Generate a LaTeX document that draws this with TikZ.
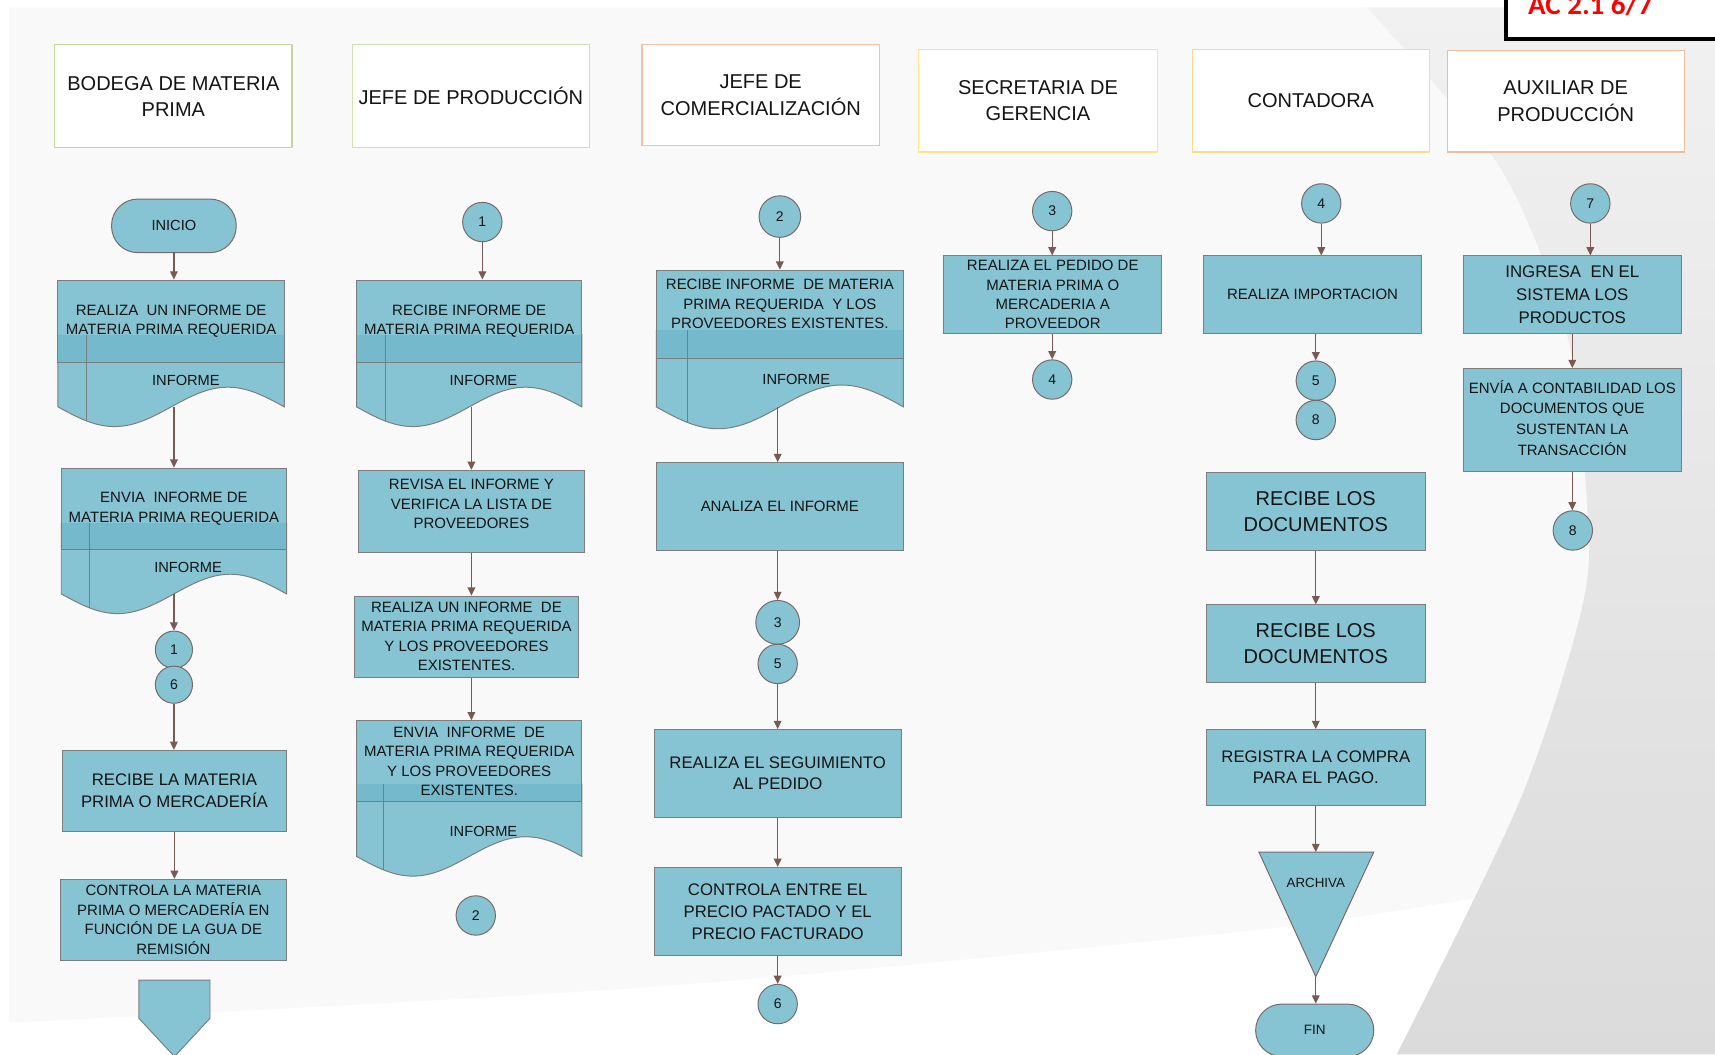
\documentclass[tikz,border=0pt]{standalone}
\usepackage{fontspec}
\setmainfont{Liberation Sans}
\newfontfamily\tagfont{Carlito}
\usetikzlibrary{arrows.meta,calc}

\definecolor{flow}{RGB}{134,196,212}
\definecolor{bandc}{RGB}{116,186,204}
\definecolor{boxline}{RGB}{125,125,125}
\definecolor{connline}{RGB}{120,105,105}
\definecolor{arrowc}{RGB}{122,88,84}
\definecolor{pagec}{RGB}{249,249,249}
\definecolor{greyA}{RGB}{241,241,241}
\definecolor{greyB}{RGB}{219,219,219}
\definecolor{hbA}{RGB}{196,215,155}
\definecolor{hbB}{RGB}{208,224,178}
\definecolor{hbC}{RGB}{242,196,165}
\definecolor{hbD}{RGB}{255,226,140}
\definecolor{hbE}{RGB}{252,218,140}
\definecolor{hbF}{RGB}{238,190,155}
\definecolor{txt}{RGB}{20,20,20}

% document-with-band symbol: wavy lower sheet, band and side rule
% #1 left, #2 right, #3 box top, #4 band top, #5 box bottom, #6 wave midline, #7 amplitude, #8 rule x, #9 rule end
\newcommand{\docunit}[9]{%
  \filldraw[fill=flow, draw=boxline, line width=0.9pt]
    (#1,#4) -- (#2,#4) -- (#2,#6)
    sin ({#2-(#2-#1)/4},{#6-#7}) cos ({(#1+#2)/2},#6)
    sin ({#1+(#2-#1)/4},{#6+#7}) cos (#1,#6) -- cycle;
  \fill[flow] (#1,#3) rectangle (#2,#5);
  \fill[bandc] (#1,#4) rectangle (#2,#5);
  \draw[boxline, line width=0.9pt] (#8,#4) -- (#8,#9);
}

\begin{document}
\begin{tikzpicture}[x=1pt,y=-1pt,
  hdr/.style={fill=white, line width=1pt, align=center, inner sep=0pt, text=txt,
    font=\fontsize{18.3}{24}\selectfont},
  proc/.style={draw=boxline, fill=flow, line width=0.9pt, align=center, inner sep=0pt, text=txt},
  frame/.style={draw=boxline, line width=0.9pt, align=center, inner sep=0pt, text=txt},
  lbl/.style={align=center, inner sep=0pt, text=txt},
  fs/.style={font=\fontsize{13.7}{17.8}\selectfont},
  fm/.style={font=\fontsize{15.3}{20}\selectfont},
  fl/.style={font=\fontsize{18.3}{24}\selectfont},
  fi/.style={font=\fontsize{13.4}{16}\selectfont},
  conn/.style={circle, draw=connline, fill=flow, line width=0.9pt, minimum size=36pt,
    inner sep=0pt, text=txt, font=\fontsize{12.8}{14}\selectfont},
  term/.style={draw=connline, fill=flow, line width=0.9pt, rounded corners=24pt,
    inner sep=0pt, text=txt, font=\fontsize{13.4}{16}\selectfont},
  arr/.style={draw=arrowc, line width=1.1pt, -{Triangle[length=7.5pt,width=7pt]}}]

\useasboundingbox (0,0) rectangle (1568,964);

% ---------- backdrop ----------
\fill[white] (0,0) rectangle (1568,964);
\fill[pagec] (8,7) -- (1568,7) -- plot[smooth] coordinates
  {(1568,786) (1390,814) (1150,850) (600,902) (8,935)} -- cycle;
\shade[top color=greyA, bottom color=greyB] plot[smooth] coordinates
  {(1250,7) (1372,154) (1433,307) (1451,461) (1447,553) (1390,731) (1277,964)}
  -- (1568,964) -- (1568,7) -- cycle;

% ---------- page tag ----------
\node[draw=black, fill=white, line width=3.7pt, minimum width=213pt, minimum height=46pt,
  inner sep=0pt] (tag) at (1483.5,13) {};
\node[anchor=base west, inner sep=0pt, text=red,
  font=\tagfont\bfseries\fontsize{26.5}{30}\selectfont] (tagtxt) at (1397,13.7) {AC 2.1 6/7};

% ---------- lane headers ----------
\node[hdr, draw=hbA, minimum width=217pt, minimum height=94pt] (h1) at (158.5,88) {BODEGA DE MATERIA\\PRIMA};
\node[hdr, draw=hbB, minimum width=217pt, minimum height=94pt] (h2) at (430.5,88) {JEFE DE PRODUCCIÓN};
\node[hdr, draw=hbC, minimum width=217pt, minimum height=92pt] (h3) at (695.5,87) {JEFE DE\\COMERCIALIZACIÓN};
\node[hdr, draw=hbD, minimum width=218pt, minimum height=94pt] (h4) at (949,92) {SECRETARIA DE\\GERENCIA};
\node[hdr, draw=hbE, minimum width=217pt, minimum height=94pt] (h5) at (1198.5,92) {CONTADORA};
\node[hdr, draw=hbF, minimum width=217pt, minimum height=93pt] (h6) at (1431.5,92.5) {AUXILIAR DE\\PRODUCCIÓN};

% ---------- lane 1: bodega ----------
\node[term, minimum width=114pt, minimum height=49pt] (ini) at (159,206.5) {INICIO};

\docunit{53}{260}{256}{306}{331}{372}{18}{79.5}{385}
\node[frame, fs, minimum width=207pt, minimum height=75pt] (d11) at (156.5,293.5)
  {REALIZA \ UN INFORME DE\\MATERIA PRIMA REQUERIDA};
\node[lbl, fi] (i11) at (170,348) {INFORME};
\coordinate (d11b) at (159,372);

\docunit{56}{262}{428}{478}{502}{543}{18}{82}{556}
\node[frame, fs, minimum width=206pt, minimum height=74pt] (d12) at (159,465)
  {ENVIA \ INFORME DE\\MATERIA PRIMA REQUERIDA};
\node[lbl, fi] (i12) at (172,519) {INFORME};
\coordinate (d12b) at (159,543);

\node[conn, minimum size=34pt] (k11) at (159,594) {1};
\node[conn, minimum size=34pt] (k16) at (159,626) {6};

\node[proc, fm, minimum width=205pt, minimum height=74pt] (b13) at (159.5,723)
  {RECIBE LA MATERIA\\PRIMA O MERCADERÍA};
\node[proc, fs, minimum width=207pt, minimum height=74pt] (b14) at (158.5,841)
  {CONTROLA LA MATERIA\\PRIMA O MERCADERÍA EN\\FUNCIÓN DE LA GUA DE\\REMISIÓN};
\filldraw[fill=flow, draw=boxline, line width=0.9pt]
  (127,896) -- (192,896) -- (192,931) -- (159.5,966) -- (127,931) -- cycle;

% ---------- lane 2: jefe de produccion ----------
\node[conn] (k21) at (441,203) {1};

\docunit{326}{532}{256}{306}{331}{372}{18}{352}{385}
\node[frame, fs, minimum width=206pt, minimum height=75pt] (d21) at (429,293.5)
  {RECIBE INFORME DE\\MATERIA PRIMA REQUERIDA};
\node[lbl, fi] (i21) at (442,348) {INFORME};
\coordinate (d21b) at (431,372);

\node[proc, minimum width=206pt, minimum height=75pt] (b22) at (431,467.5) {};
\node[lbl, fs] (t22) at (431,461)
  {REVISA EL INFORME Y\\VERIFICA LA LISTA DE\\PROVEEDORES};
\node[proc, fs, minimum width=205pt, minimum height=74pt] (b23) at (426.5,582)
  {REALIZA UN INFORME \ DE\\MATERIA PRIMA REQUERIDA\\Y LOS PROVEEDORES\\EXISTENTES.};

\docunit{326}{532}{659}{717}{733}{783}{18}{351}{795}
\node[frame, fs, minimum width=206pt, minimum height=74pt] (d24) at (429,696)
  {ENVIA \ INFORME \ DE\\MATERIA PRIMA REQUERIDA\\Y LOS PROVEEDORES\\EXISTENTES.};
\node[lbl, fi] (i24) at (442,760) {INFORME};

\node[conn] (k22) at (435,837) {2};

% ---------- lane 3: jefe de comercializacion ----------
\node[conn, minimum size=38pt] (k32) at (713,198) {2};

\docunit{600}{826}{247}{302}{328}{372}{20}{629}{386}
\node[frame, minimum width=226pt, minimum height=81pt] (d31) at (713,287.5) {};
\node[lbl, fs] (t31) at (713,278)
  {RECIBE INFORME \ DE MATERIA\\PRIMA REQUERIDA \ Y LOS\\PROVEEDORES EXISTENTES.};
\node[lbl, fi] (i31) at (728,347) {INFORME};
\coordinate (d31b) at (711,372);

\node[proc, fs, minimum width=226pt, minimum height=80pt] (b32) at (713,463) {ANALIZA EL INFORME};
\node[conn, minimum size=40pt] (k33) at (711,569) {3};
\node[conn] (k35) at (711,607) {5};
\node[proc, fm, minimum width=226pt, minimum height=80pt] (b34) at (711,707)
  {REALIZA EL SEGUIMIENTO\\AL PEDIDO};
\node[proc, fm, minimum width=226pt, minimum height=81pt] (b35) at (711,833.5)
  {CONTROLA ENTRE EL\\PRECIO PACTADO Y EL\\PRECIO FACTURADO};
\node[conn] (k36) at (711,918) {6};

% ---------- lane 4: secretaria ----------
\node[conn] (k43) at (962,193) {3};
\node[proc, font=\fontsize{13.7}{17.7}\selectfont, minimum width=199pt, minimum height=71pt] (b41) at (962.5,269.5)
  {REALIZA EL PEDIDO DE\\MATERIA PRIMA O\\MERCADERIA A\\PROVEEDOR};
\node[conn] (k44) at (962,347) {4};

% ---------- lane 5: contadora ----------
\node[conn] (k54) at (1208,186) {4};
\node[proc, fs, minimum width=200pt, minimum height=71pt] (b51) at (1200,269.5) {REALIZA IMPORTACION};
\node[conn] (k55) at (1203,348) {5};
\node[conn] (k58) at (1203,384) {8};
\node[proc, fl, minimum width=200pt, minimum height=71pt] (b52) at (1203,467.5) {RECIBE LOS\\DOCUMENTOS};
\node[proc, fl, minimum width=200pt, minimum height=71pt] (b53) at (1203,588.5) {RECIBE LOS\\DOCUMENTOS};
\node[proc, fm, minimum width=200pt, minimum height=69pt] (b54) at (1203,701.5) {REGISTRA LA COMPRA\\PARA EL PAGO.};
\coordinate (a1) at (1151,779);
\coordinate (a2) at (1256,779);
\coordinate (a3) at (1203,893);
\coordinate (archtop) at (1203,779);
\filldraw[fill=flow, draw=connline, line width=0.9pt] (a1) -- (a2) -- (a3) -- cycle;
\node[lbl, font=\fontsize{12.2}{14}\selectfont] (arch) at (1203,807) {ARCHIVA};
\node[term, minimum width=108pt, minimum height=48pt, font=\fontsize{12.4}{14}\selectfont] (fin) at (1202,942) {FIN};

% ---------- lane 6: auxiliar ----------
\node[conn] (k67) at (1454,186) {7};
\node[proc, font=\fontsize{15.4}{21}\selectfont, minimum width=199pt, minimum height=71pt] (b61) at (1437.5,269.5)
  {INGRESA \ EN EL\\SISTEMA LOS\\PRODUCTOS};
\node[proc, minimum width=199pt, minimum height=94pt] (b62) at (1437.5,384) {};
\node[lbl, font=\fontsize{13.7}{19}\selectfont] (t62) at (1437.5,382)
  {ENVÍA A CONTABILIDAD LOS\\DOCUMENTOS QUE\\SUSTENTAN LA\\TRANSACCIÓN};
\node[conn] (k68) at (1438,485) {8};

% ---------- connectors ----------
\draw[arr] (ini.south) -- (ini.south |- d11.north);
\draw[arr] (d11b) -- (d11b |- d12.north);
\draw[arr] (d12b) -- (k11.north);
\draw[arr] (k16.south) -- (k16.south |- b13.north);
\draw[arr] (b13.south) -- (b13.south |- b14.north);

\draw[arr] (k21.south) -- (k21.south |- d21.north);
\draw[arr] (d21b) -- (d21b |- b22.north);
\draw[arr] (b22.south) -- (b22.south |- b23.north);
\draw[arr] (b22.south |- b23.south) -- (b22.south |- d24.north);

\draw[arr] (k32.south) -- (k32.south |- d31.north);
\draw[arr] (d31b) -- (d31b |- b32.north);
\draw[arr] (k33 |- b32.south) -- (k33.north);
\draw[arr] (k35.south) -- (k35.south |- b34.north);
\draw[arr] (b34.south) -- (b34.south |- b35.north);
\draw[arr] (b35.south) -- (k36.north);

\draw[arr] (k43.south) -- (k43.south |- b41.north);
\draw[arr] (k44 |- b41.south) -- (k44.north);

\draw[arr] (k54.south) -- (k54.south |- b51.north);
\draw[arr] (k55 |- b51.south) -- (k55.north);
\draw[arr] (b52.south) -- (b52.south |- b53.north);
\draw[arr] (b53.south) -- (b53.south |- b54.north);
\draw[arr] (b54.south) -- (archtop);
\draw[arr] (a3) -- (a3 |- fin.north);

\draw[arr] (k67.south) -- (k67.south |- b61.north);
\draw[arr] (b61.south) -- (b61.south |- b62.north);
\draw[arr] (b62.south) -- (b62.south |- k68.north);

\end{tikzpicture}
\end{document}
